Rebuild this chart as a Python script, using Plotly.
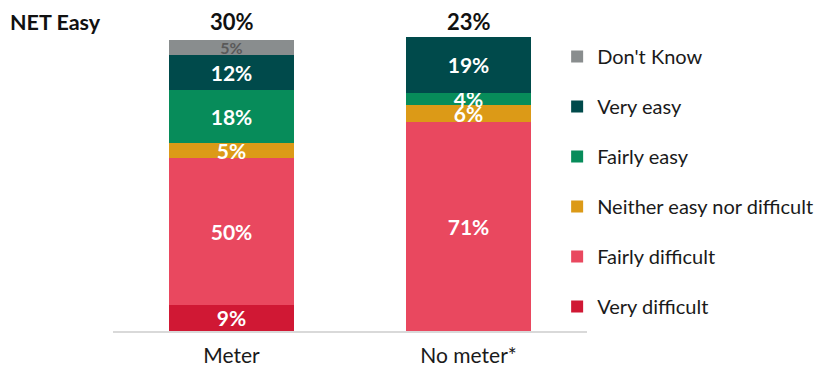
import plotly.graph_objects as go

# Survey responses by meter status (percent of respondents)
categories = ["Meter", "No meter*"]
very_difficult = [9, 0]
fairly_difficult = [50, 71]
neither = [5, 6]
fairly_easy = [18, 4]
very_easy = [12, 19]
dont_know = [5, 0]

series = [
    ("Very difficult", very_difficult, "#D01834", "white", 21),
    ("Fairly difficult", fairly_difficult, "#E9485F", "white", 21),
    ("Neither easy nor difficult", neither, "#DC9A17", "white", 21),
    ("Fairly easy", fairly_easy, "#078C5A", "white", 21),
    ("Very easy", very_easy, "#004A4B", "white", 21),
    ("Don't Know", dont_know, "#898D8E", "#595959", 16),
]

FONT = "Lato"

fig = go.Figure()
for i, (name, vals, color, tcolor, tsize) in enumerate(series):
    fig.add_trace(go.Bar(
        x=categories,
        y=vals,
        name=name,
        legendgroup=f"g{i}",
        legendrank=len(series) - i,  # top of stack listed first
        marker=dict(color=color, line=dict(width=0)),
        text=[f"{v}%" if v else "" for v in vals],
        textposition="inside",
        insidetextanchor="middle",
        textangle=0,
        constraintext="none",
        textfont=dict(family=FONT, size=tsize, color=tcolor, weight="bold"),
        hoverinfo="skip",
    ))

# NET Easy = Fairly easy + Very easy
net_easy = [a + b for a, b in zip(fairly_easy, very_easy)]
for cat, v in zip(categories, net_easy):
    fig.add_annotation(x=cat, y=1, xref="x", yref="paper",
                       yanchor="bottom", text=f"{v}%", showarrow=False,
                       font=dict(family=FONT, size=22, color="#111111", weight="bold"))
fig.add_annotation(x=0, xref="paper", xshift=-105, xanchor="left",
                   y=1, yref="paper", yanchor="bottom",
                   text="NET Easy", showarrow=False,
                   font=dict(family=FONT, size=21.5, color="#111111", weight="bold"))

fig.update_layout(
    width=823, height=366,
    margin=dict(l=113, r=236, t=37, b=35, autoexpand=False),
    barmode="stack",
    bargap=0.473,
    plot_bgcolor="white",
    paper_bgcolor="white",
    font=dict(family=FONT, color="#1A1A1A"),
    legend=dict(
        x=0.937, xanchor="left", y=1.0, yanchor="top",
        traceorder="grouped", tracegroupgap=21, maxheight=1,
        font=dict(family=FONT, size=20, color="#1A1A1A"),
        bgcolor="rgba(0,0,0,0)",
    ),
    xaxis=dict(showline=True, linecolor="#D9D9D9", linewidth=2,
               ticks="", showgrid=False, zeroline=False,
               ticklabelstandoff=5,
               tickfont=dict(family=FONT, size=21, color="#1A1A1A")),
    yaxis=dict(range=[0, 100], visible=False, showgrid=False, zeroline=False),
)

fig.write_html("out.html")
